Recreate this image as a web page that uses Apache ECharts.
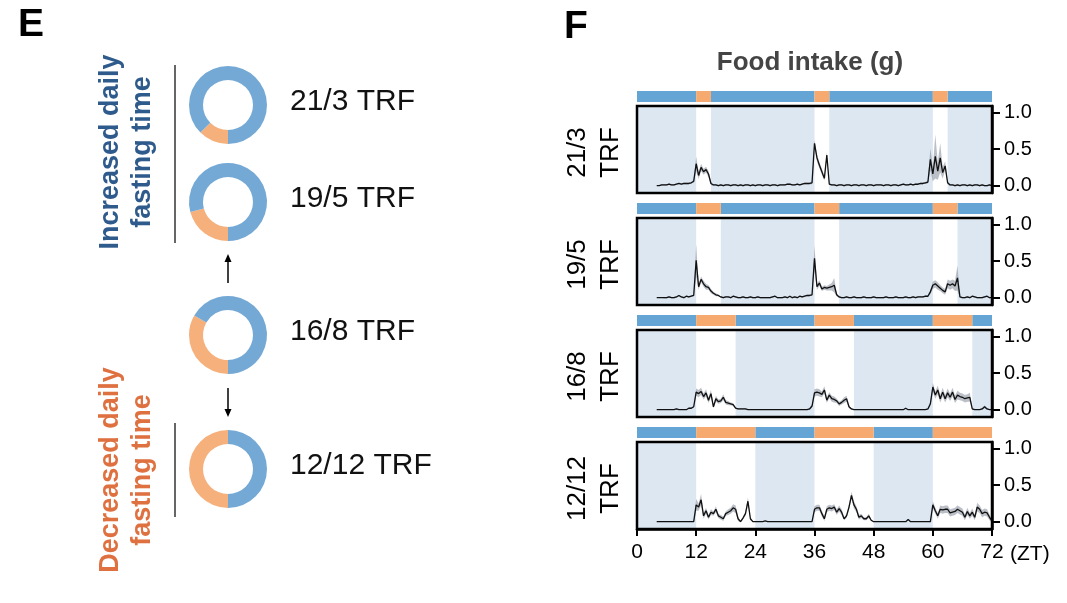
<!DOCTYPE html>
<html>
<head>
<meta charset="utf-8">
<script src="https://cdn.jsdelivr.net/npm/echarts@6/dist/echarts.min.js"></script>
<style>html,body{margin:0;padding:0;background:#fff}#c{width:1067px;height:603px}</style>
</head>
<body>
<div id="c"></div>
<script>
// ---------------- DATA ----------------
const ztStart = 4, ztStep = 0.5;           // sampling of the intake traces (ZT hours)
const xTicks = [0, 12, 24, 36, 48, 60, 72];
const yTicks = [0, 0.5, 1.0];
const rowLabels = ['21/3\nTRF', '19/5\nTRF', '16/8\nTRF', '12/12\nTRF'];
const feedHours = [3, 5, 8, 12];
const fastHours = [21, 19, 16, 12];
const feedStarts = [12, 36, 60];
const donutLabels = ['21/3 TRF', '19/5 TRF', '16/8 TRF', '12/12 TRF'];

const intake213 = [
  0.00,0.00,0.01,0.01,0.01,0.02,0.01,0.01,0.02,0.03,0.02,0.03,
  0.03,0.03,0.04,0.06,0.30,0.14,0.25,0.19,0.22,0.16,0.03,0.01,
  0.01,0.00,0.01,0.00,0.01,0.01,0.00,0.01,0.01,0.00,0.01,0.00,
  0.01,0.01,0.00,0.01,0.00,0.01,0.01,0.00,0.01,0.01,0.00,0.01,
  0.01,0.00,0.01,0.01,0.01,0.02,0.02,0.01,0.01,0.02,0.01,0.02,
  0.03,0.03,0.03,0.04,0.58,0.38,0.28,0.19,0.10,0.42,0.02,0.01,
  0.01,0.00,0.01,0.01,0.00,0.01,0.01,0.00,0.01,0.01,0.00,0.01,
  0.01,0.00,0.01,0.01,0.00,0.01,0.01,0.01,0.00,0.01,0.01,0.00,
  0.01,0.01,0.00,0.01,0.02,0.01,0.01,0.02,0.01,0.02,0.02,0.03,
  0.03,0.04,0.05,0.36,0.16,0.40,0.20,0.38,0.18,0.27,0.04,0.01,
  0.01,0.00,0.01,0.00,0.01,0.01,0.00,0.01,0.00,0.01,0.01,0.00,
  0.01,0.00,0.00,0.01,0.00
];
const sem213 = [
  0.00,0.00,0.01,0.01,0.01,0.01,0.01,0.01,0.01,0.01,0.01,0.01,
  0.01,0.01,0.01,0.02,0.10,0.05,0.05,0.04,0.04,0.04,0.02,0.01,
  0.01,0.01,0.01,0.01,0.01,0.01,0.01,0.01,0.01,0.01,0.01,0.01,
  0.01,0.01,0.01,0.01,0.01,0.01,0.01,0.01,0.01,0.01,0.01,0.01,
  0.01,0.01,0.01,0.01,0.01,0.01,0.01,0.01,0.01,0.01,0.01,0.01,
  0.01,0.01,0.01,0.02,0.05,0.05,0.04,0.04,0.03,0.04,0.01,0.01,
  0.01,0.01,0.01,0.01,0.01,0.01,0.01,0.01,0.01,0.01,0.01,0.01,
  0.01,0.01,0.01,0.01,0.01,0.01,0.01,0.01,0.01,0.01,0.01,0.01,
  0.01,0.01,0.01,0.01,0.01,0.01,0.01,0.01,0.01,0.01,0.01,0.01,
  0.01,0.01,0.02,0.15,0.10,0.30,0.12,0.20,0.08,0.06,0.02,0.01,
  0.01,0.01,0.01,0.01,0.01,0.01,0.01,0.01,0.01,0.01,0.01,0.01,
  0.01,0.01,0.01,0.01,0.00
];

const intake195 = [
  0.00,0.00,0.00,0.00,0.00,0.01,0.00,0.00,0.01,0.03,0.01,0.00,
  0.02,0.01,0.02,0.03,0.51,0.15,0.25,0.19,0.15,0.14,0.09,0.06,
  0.04,0.03,0.01,0.00,0.01,0.01,0.00,0.02,0.01,0.00,0.00,0.01,
  0.00,0.00,0.01,0.00,0.00,0.01,0.00,0.00,0.00,0.00,0.00,0.01,
  0.02,0.00,0.00,0.00,0.01,0.00,0.02,0.00,0.01,0.00,0.02,0.01,
  0.02,0.03,0.03,0.04,0.54,0.15,0.20,0.12,0.14,0.13,0.14,0.15,
  0.17,0.04,0.01,0.00,0.00,0.01,0.00,0.00,0.01,0.00,0.00,0.00,
  0.01,0.00,0.00,0.00,0.01,0.00,0.00,0.00,0.00,0.01,0.00,0.00,
  0.00,0.01,0.00,0.00,0.00,0.01,0.00,0.00,0.01,0.00,0.01,0.01,
  0.01,0.02,0.02,0.08,0.17,0.19,0.16,0.13,0.10,0.08,0.19,0.17,
  0.19,0.16,0.27,0.01,0.00,0.00,0.01,0.00,0.02,0.01,0.00,0.00,
  0.00,0.01,0.02,0.00,0.00
];
const sem195 = [
  0.00,0.00,0.00,0.01,0.01,0.01,0.01,0.01,0.01,0.01,0.01,0.01,
  0.01,0.01,0.01,0.01,0.22,0.04,0.04,0.04,0.04,0.03,0.03,0.02,
  0.02,0.01,0.01,0.01,0.01,0.01,0.01,0.01,0.01,0.01,0.01,0.01,
  0.01,0.01,0.01,0.01,0.01,0.01,0.01,0.01,0.01,0.01,0.01,0.01,
  0.01,0.01,0.01,0.01,0.01,0.01,0.01,0.01,0.01,0.01,0.01,0.01,
  0.01,0.01,0.01,0.01,0.17,0.04,0.04,0.03,0.03,0.03,0.04,0.05,
  0.10,0.02,0.01,0.01,0.01,0.01,0.01,0.01,0.01,0.01,0.01,0.01,
  0.01,0.01,0.01,0.01,0.01,0.01,0.01,0.01,0.01,0.01,0.01,0.01,
  0.01,0.01,0.01,0.01,0.01,0.01,0.01,0.01,0.01,0.01,0.01,0.01,
  0.01,0.01,0.01,0.03,0.05,0.05,0.05,0.04,0.04,0.04,0.06,0.06,
  0.06,0.07,0.17,0.01,0.01,0.01,0.01,0.01,0.01,0.01,0.01,0.01,
  0.01,0.01,0.01,0.01,0.00
];

const intake168 = [
  0.00,0.00,0.00,0.00,0.00,0.00,0.00,0.00,0.01,0.00,0.00,0.00,
  0.00,0.02,0.02,0.04,0.24,0.22,0.25,0.18,0.23,0.13,0.22,0.04,
  0.15,0.11,0.12,0.17,0.10,0.09,0.08,0.07,0.02,0.01,0.01,0.01,
  0.01,0.00,0.00,0.00,0.00,0.00,0.00,0.00,0.00,0.00,0.00,0.00,
  0.00,0.00,0.00,0.00,0.00,0.00,0.00,0.00,0.00,0.00,0.00,0.00,
  0.00,0.00,0.01,0.05,0.23,0.24,0.23,0.21,0.27,0.13,0.20,0.15,
  0.14,0.12,0.08,0.10,0.13,0.15,0.04,0.01,0.00,0.00,0.00,0.00,
  0.00,0.00,0.00,0.00,0.00,0.00,0.00,0.00,0.00,0.00,0.00,0.00,
  0.00,0.00,0.00,0.00,0.00,0.02,0.00,0.00,0.00,0.00,0.00,0.00,
  0.00,0.00,0.01,0.08,0.31,0.20,0.27,0.15,0.24,0.15,0.23,0.17,
  0.24,0.14,0.20,0.18,0.17,0.15,0.16,0.17,0.01,0.00,0.00,0.00,
  0.01,0.04,0.01,0.00,0.00
];
const sem168 = [
  0.00,0.00,0.00,0.00,0.00,0.00,0.00,0.00,0.01,0.00,0.00,0.00,
  0.00,0.01,0.01,0.01,0.05,0.05,0.05,0.04,0.05,0.04,0.05,0.02,
  0.04,0.03,0.03,0.04,0.03,0.03,0.02,0.02,0.01,0.01,0.01,0.01,
  0.01,0.00,0.00,0.00,0.00,0.00,0.00,0.00,0.00,0.00,0.00,0.00,
  0.00,0.00,0.00,0.00,0.00,0.00,0.00,0.00,0.00,0.00,0.00,0.00,
  0.00,0.00,0.01,0.02,0.05,0.05,0.05,0.04,0.05,0.04,0.04,0.04,
  0.04,0.03,0.03,0.03,0.04,0.04,0.02,0.01,0.00,0.00,0.00,0.00,
  0.00,0.00,0.00,0.00,0.00,0.00,0.00,0.00,0.00,0.00,0.00,0.00,
  0.00,0.00,0.00,0.00,0.00,0.01,0.00,0.00,0.00,0.00,0.00,0.00,
  0.00,0.00,0.01,0.03,0.06,0.05,0.06,0.05,0.06,0.05,0.06,0.05,
  0.06,0.05,0.06,0.05,0.05,0.05,0.05,0.06,0.01,0.00,0.00,0.00,
  0.01,0.02,0.01,0.00,0.00
];

const intake1212 = [
  0.00,0.00,0.00,0.00,0.00,0.00,0.00,0.00,0.00,0.00,0.00,0.00,
  0.00,0.00,0.00,0.00,0.23,0.20,0.30,0.08,0.15,0.06,0.13,0.11,
  0.17,0.08,0.06,0.04,0.11,0.13,0.15,0.19,0.17,0.04,0.00,0.05,
  0.11,0.28,0.04,0.00,0.00,0.00,0.00,0.00,0.01,0.00,0.00,0.00,
  0.00,0.00,0.00,0.00,0.00,0.00,0.00,0.00,0.00,0.00,0.00,0.00,
  0.00,0.00,0.00,0.00,0.17,0.19,0.19,0.11,0.04,0.17,0.19,0.18,
  0.20,0.13,0.18,0.13,0.04,0.08,0.20,0.36,0.23,0.17,0.06,0.08,
  0.04,0.04,0.08,0.02,0.00,0.00,0.00,0.00,0.00,0.00,0.00,0.00,
  0.00,0.00,0.00,0.00,0.00,0.00,0.03,0.00,0.00,0.00,0.00,0.00,
  0.00,0.00,0.00,0.00,0.23,0.15,0.08,0.17,0.16,0.17,0.17,0.12,
  0.13,0.14,0.17,0.15,0.13,0.06,0.14,0.08,0.13,0.06,0.20,0.17,
  0.11,0.13,0.12,0.06,0.01
];
const sem1212 = [
  0.00,0.00,0.00,0.00,0.00,0.00,0.00,0.00,0.00,0.00,0.00,0.00,
  0.00,0.00,0.00,0.00,0.08,0.05,0.08,0.04,0.04,0.03,0.04,0.03,
  0.04,0.03,0.03,0.03,0.03,0.04,0.04,0.05,0.05,0.03,0.01,0.02,
  0.03,0.05,0.02,0.00,0.00,0.00,0.00,0.00,0.00,0.00,0.00,0.00,
  0.00,0.00,0.00,0.00,0.00,0.00,0.00,0.00,0.00,0.00,0.00,0.00,
  0.00,0.00,0.00,0.00,0.04,0.04,0.04,0.04,0.03,0.04,0.04,0.04,
  0.04,0.04,0.04,0.04,0.02,0.03,0.04,0.05,0.05,0.04,0.03,0.03,
  0.02,0.02,0.03,0.01,0.00,0.00,0.00,0.00,0.00,0.00,0.00,0.00,
  0.00,0.00,0.00,0.00,0.00,0.00,0.01,0.00,0.00,0.00,0.00,0.00,
  0.00,0.00,0.00,0.01,0.05,0.04,0.04,0.05,0.05,0.05,0.05,0.05,
  0.05,0.05,0.05,0.05,0.05,0.04,0.05,0.04,0.05,0.04,0.06,0.05,
  0.05,0.05,0.05,0.04,0.02
];

const intakeRows = [intake213, intake195, intake168, intake1212];
const semRows = [sem213, sem195, sem168, sem1212];

// ---------------- STYLE / LAYOUT ----------------
const FONT = 'Liberation Sans, Arial, Helvetica, sans-serif';
const C_FAST_BAR = '#65a5d5', C_FEED_BAR = '#f6aa70';
const C_DONUT_BLUE = '#74a9d6', C_DONUT_ORANGE = '#f5b07c';
const C_SHADE = '#dce7f2', C_BAND = 'rgba(105,112,130,0.45)';
const plotLeft = 637, plotRight = 75, boxH = 87;
const boxTops = [106, 218, 330, 442];
const donutCY = [105, 202, 335, 469];
const donutCX = 228;

function fastIntervals(h) {
  const out = []; let prev = 0;
  feedStarts.forEach(s => { out.push([prev, s]); prev = s + h; });
  if (prev < 72) out.push([prev, 72]);
  return out;
}
function feedIntervals(h) { return feedStarts.map(s => [s, Math.min(72, s + h)]); }

const grids = [], xAxes = [], yAxes = [], series = [];

for (let r = 0; r < 4; r++) {
  grids.push({ left: plotLeft, right: plotRight, top: boxTops[r], height: boxH, outerBoundsMode: 'none', containLabel: false });
  xAxes.push({
    gridIndex: r, type: 'value', min: 0, max: 72, interval: 12, show: r === 3, position: 'bottom',
    axisLine: { show: true, onZero: false, lineStyle: { color: '#000', width: 2.5 } },
    axisTick: { show: true, inside: false, length: 7, lineStyle: { color: '#000', width: 2 } },
    axisLabel: { show: true, fontSize: 21, color: '#000', margin: 13, fontFamily: FONT },
    splitLine: { show: false }
  });
  yAxes.push({
    gridIndex: r, type: 'value', position: 'right', min: -0.1, max: 1.09,
    axisLine: { show: true, onZero: false, lineStyle: { color: '#000', width: 2.5 } },
    axisTick: { show: true, inside: false, customValues: yTicks, length: 8, lineStyle: { color: '#000', width: 2 } },
    axisLabel: { show: true, customValues: yTicks, formatter: v => Number(v).toFixed(1), fontSize: 20, color: '#000', margin: 12, fontFamily: FONT },
    splitLine: { show: false }
  });
}
for (let r = 0; r < 4; r++) {
  grids.push({ left: plotLeft, right: plotRight, top: boxTops[r] - 15, height: 11, outerBoundsMode: 'none', containLabel: false });
  xAxes.push({ gridIndex: 4 + r, type: 'value', min: 0, max: 72, show: false });
  yAxes.push({ gridIndex: 4 + r, type: 'value', min: 0, max: 1, show: false });
}

for (let r = 0; r < 4; r++) {
  const fasts = fastIntervals(feedHours[r]);
  const feeds = feedIntervals(feedHours[r]);
  const vals = intakeRows[r], errs = semRows[r];

  series.push({
    type: 'custom', xAxisIndex: r, yAxisIndex: r, z: 1, silent: true, data: [[0, 0]],
    renderItem: (params, api) => {
      const cs = params.coordSys;
      return { type: 'group', children: fasts.map(([s, e]) => {
        const x1 = api.coord([s, 0])[0], x2 = api.coord([e, 0])[0];
        return { type: 'rect', shape: { x: x1, y: cs.y, width: x2 - x1, height: cs.height }, style: { fill: C_SHADE } };
      }) };
    }
  });
  series.push({
    type: 'custom', xAxisIndex: r, yAxisIndex: r, z: 2, silent: true, data: [[0, 0]],
    renderItem: (params, api) => {
      const up = [], lo = [];
      for (let i = 0; i < vals.length; i++) {
        const x = ztStart + ztStep * i;
        up.push(api.coord([x, vals[i] + errs[i]]));
        lo.push(api.coord([x, vals[i] - errs[i]]));
      }
      return { type: 'polygon', shape: { points: up.concat(lo.reverse()) }, style: { fill: C_BAND } };
    }
  });
  series.push({
    type: 'line', xAxisIndex: r, yAxisIndex: r, z: 3, silent: true, symbol: 'none',
    lineStyle: { color: '#111', width: 1.3 },
    data: vals.map((v, i) => [ztStart + ztStep * i, v])
  });
  series.push({
    type: 'custom', xAxisIndex: r, yAxisIndex: r, z: 5, silent: true, data: [[0, 0]],
    renderItem: (params) => {
      const cs = params.coordSys;
      return { type: 'rect', shape: { x: cs.x, y: cs.y, width: cs.width, height: cs.height }, style: { fill: 'none', stroke: '#000', lineWidth: 2.5 } };
    }
  });
  const segs = fasts.map(s => [s[0], s[1], 0]).concat(feeds.map(s => [s[0], s[1], 1]));
  series.push({
    type: 'custom', xAxisIndex: 4 + r, yAxisIndex: 4 + r, z: 1, silent: true, data: [[0, 0]],
    renderItem: (params, api) => {
      return { type: 'group', children: segs.map(([s, e, k]) => {
        const p1 = api.coord([s, 1]), p2 = api.coord([e, 0]);
        return { type: 'rect', shape: { x: p1[0], y: p1[1], width: p2[0] - p1[0], height: p2[1] - p1[1] }, style: { fill: k ? C_FEED_BAR : C_FAST_BAR } };
      }) };
    }
  });
}

for (let r = 0; r < 4; r++) {
  series.push({
    type: 'pie', center: [donutCX, donutCY[r]], radius: [25, 39], startAngle: -90, clockwise: true,
    silent: true, animation: false, label: { show: false }, labelLine: { show: false },
    itemStyle: { borderWidth: 0 }, emphasis: { disabled: true },
    data: [
      { name: 'feeding', value: feedHours[r], itemStyle: { color: C_DONUT_ORANGE } },
      { name: 'fasting', value: fastHours[r], itemStyle: { color: C_DONUT_BLUE } }
    ]
  });
}

const graphic = [];
function txt(x, y, text, o) {
  graphic.push(Object.assign({ type: 'text', x: x, y: y, silent: true, style: Object.assign({
    text: text, fontFamily: FONT, fontSize: 20, fill: '#000', align: 'center', verticalAlign: 'middle'
  }, o.style || {}) }, o.el || {}));
}
txt(31, 25, 'E', { style: { fontSize: 39, fontWeight: 'bold' } });
txt(576, 27, 'F', { style: { fontSize: 39, fontWeight: 'bold' } });
txt(810, 63, 'Food intake (g)', { style: { fontSize: 26, fontWeight: 'bold', fill: '#444' } });
for (let r = 0; r < 4; r++) {
  txt(594, boxTops[r] + boxH / 2 + 3, rowLabels[r], { style: { fontSize: 26, lineHeight: 33 }, el: { rotation: Math.PI / 2 } });
  txt(290, donutCY[r] - 3, donutLabels[r], { style: { fontSize: 30, align: 'left', fill: '#111' } });
}
txt(1010, 554, '(ZT)', { style: { fontSize: 21, align: 'left' } });
txt(127, 152, 'Increased daily\nfasting time', { style: { fontSize: 27, fontWeight: 'bold', fill: '#2e5a8c', lineHeight: 32 }, el: { rotation: Math.PI / 2 } });
txt(127, 470, 'Decreased daily\nfasting time', { style: { fontSize: 27, fontWeight: 'bold', fill: '#df7040', lineHeight: 32 }, el: { rotation: Math.PI / 2 } });

graphic.push({ type: 'line', silent: true, shape: { x1: 175, y1: 65, x2: 175, y2: 243 }, style: { stroke: '#666', lineWidth: 2 } });
graphic.push({ type: 'line', silent: true, shape: { x1: 175, y1: 423, x2: 175, y2: 517 }, style: { stroke: '#666', lineWidth: 2 } });
graphic.push({ type: 'line', silent: true, shape: { x1: donutCX, y1: 283, x2: donutCX, y2: 260 }, style: { stroke: '#000', lineWidth: 1.5 } });
graphic.push({ type: 'polygon', silent: true, shape: { points: [[donutCX, 254], [donutCX - 3.5, 262], [donutCX + 3.5, 262]] }, style: { fill: '#000' } });
graphic.push({ type: 'line', silent: true, shape: { x1: donutCX, y1: 388, x2: donutCX, y2: 410 }, style: { stroke: '#000', lineWidth: 1.5 } });
graphic.push({ type: 'polygon', silent: true, shape: { points: [[donutCX, 417], [donutCX - 3.5, 409], [donutCX + 3.5, 409]] }, style: { fill: '#000' } });

const chart = echarts.init(document.getElementById('c'), null, { renderer: 'canvas' });
chart.setOption({
  animation: false,
  backgroundColor: '#fff',
  textStyle: { fontFamily: FONT },
  grid: grids, xAxis: xAxes, yAxis: yAxes, series: series, graphic: graphic
});
</script>
</body>
</html>
